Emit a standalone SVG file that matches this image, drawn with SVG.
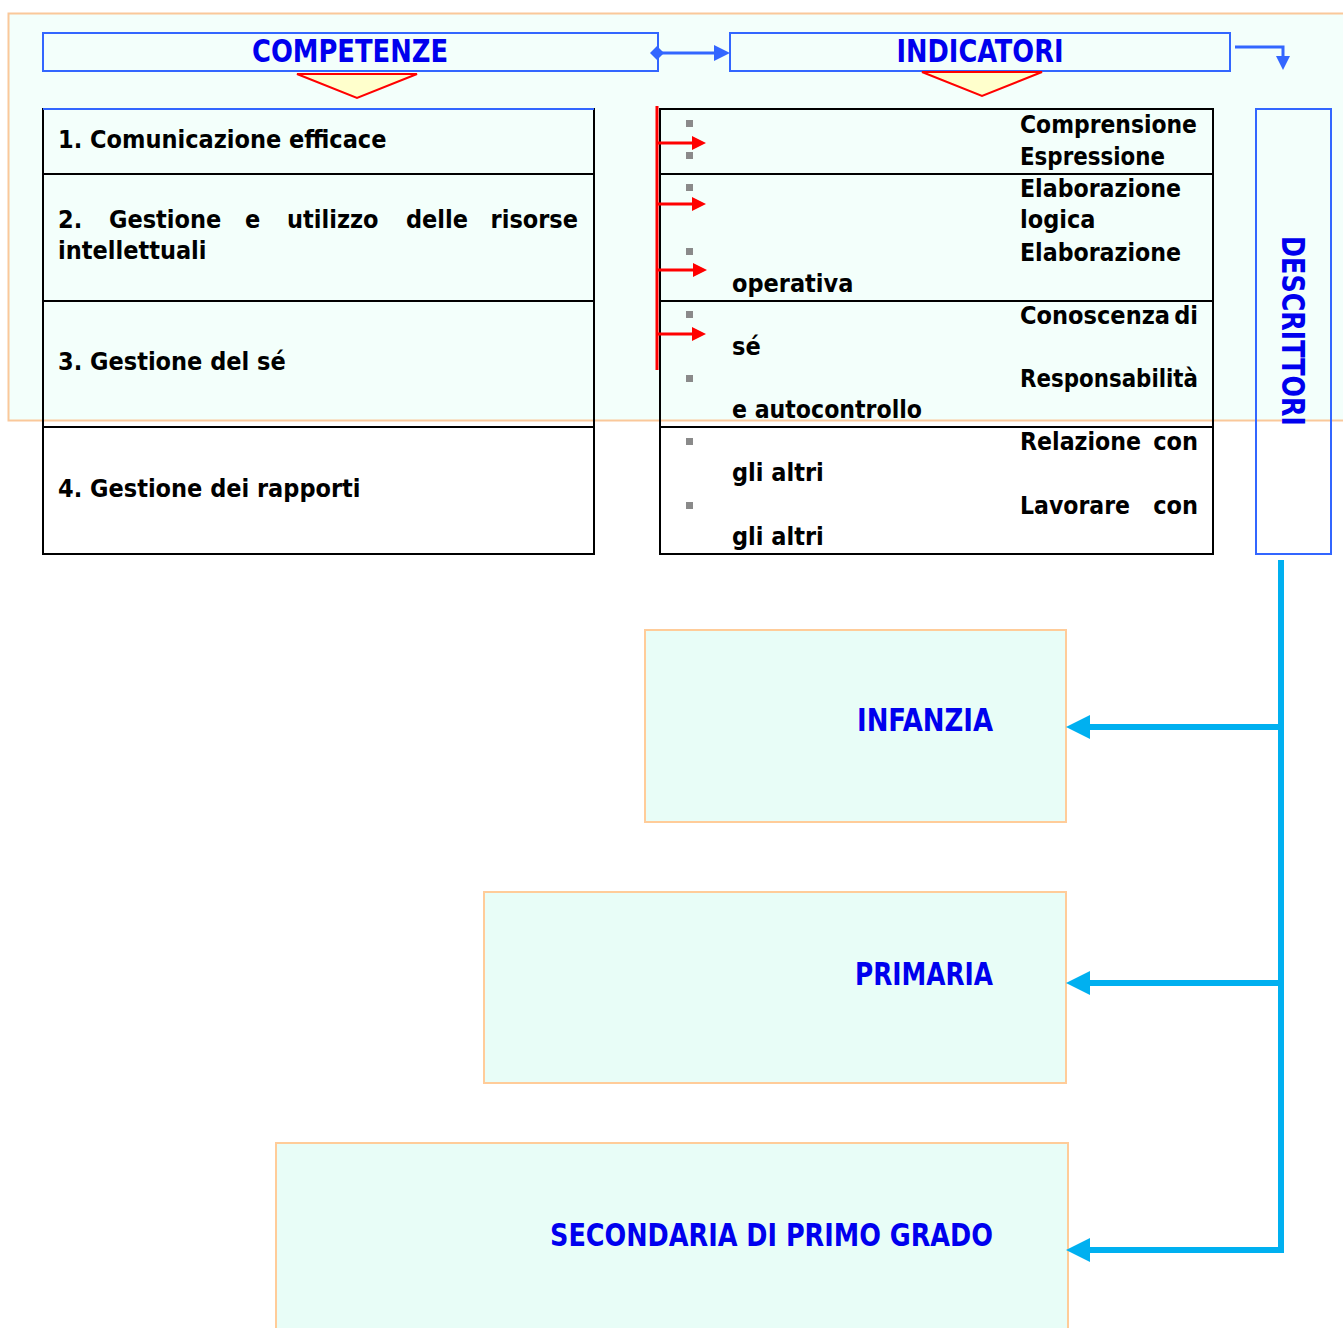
<svg xmlns="http://www.w3.org/2000/svg" width="1343" height="1328" viewBox="0 0 1343 1328">
<style>
.hdr{font-family:"DejaVu Sans Condensed","DejaVu Sans",sans-serif;font-stretch:condensed;font-weight:bold;font-size:32px;fill:#0000ee}
.t{font-family:"DejaVu Sans Condensed","DejaVu Sans",sans-serif;font-stretch:condensed;font-weight:bold;font-size:25px;fill:#000}
.bluebox{fill:none;stroke:#3366ff;stroke-width:2}
.lvl{fill:#e8fdf7;stroke:#ffcc99;stroke-width:2}
.tri{fill:#ffffcc;stroke:#ff0000;stroke-width:2}
.cell{fill:none;stroke:#000;stroke-width:2}
.bul{fill:#8a8a8a}
.red{stroke:#ff0000;stroke-width:3;fill:none}
.cy{stroke:#00b0f0;stroke-width:6;fill:none}
</style>
<rect width="1343" height="1328" fill="#ffffff"/>
<rect id="panel" x="8.5" y="13.5" width="1345" height="407" fill="#f3fffb" stroke="#fac89a" stroke-width="2"/>

<g id="competenze">
<rect class="bluebox" x="43" y="33" width="615" height="38"/>
<text class="hdr" x="350" y="62" text-anchor="middle" textLength="196" lengthAdjust="spacingAndGlyphs">COMPETENZE</text>
<polygon class="tri" points="297,74 417,74 357,98"/>
</g>

<g id="indicatori">
<rect class="bluebox" x="730" y="33" width="500" height="38"/>
<text class="hdr" x="980" y="62" text-anchor="middle" textLength="167" lengthAdjust="spacingAndGlyphs">INDICATORI</text>
<polygon class="tri" points="922,72 1042,72 982,96"/>
</g>

<g id="competenze-table">
<rect class="cell" x="43" y="109" width="551" height="445"/>
<line x1="43" y1="109" x2="594" y2="109" stroke="#3366ff" stroke-width="2"/>
<line class="cell" x1="43" y1="174" x2="594" y2="174"/>
<line class="cell" x1="43" y1="301" x2="594" y2="301"/>
<line class="cell" x1="43" y1="427" x2="594" y2="427"/>
<text class="t" x="58" y="148">1. Comunicazione efficace</text>
<text class="t" x="58" y="228">2.</text>
<text class="t" x="109" y="228">Gestione</text>
<text class="t" x="245" y="228">e</text>
<text class="t" x="287" y="228">utilizzo</text>
<text class="t" x="406" y="228">delle</text>
<text class="t" x="578" y="228" text-anchor="end">risorse</text>
<text class="t" x="58" y="259">intellettuali</text>
<text class="t" x="58" y="370">3. Gestione del sé</text>
<text class="t" x="58" y="497">4. Gestione dei rapporti</text>
</g>

<g id="indicatori-table">
<rect class="cell" x="660" y="109" width="553" height="445"/>
<line class="cell" x1="660" y1="174" x2="1213" y2="174"/>
<line class="cell" x1="660" y1="301" x2="1213" y2="301"/>
<line class="cell" x1="660" y1="427" x2="1213" y2="427"/>
<g>
<rect class="bul" x="686" y="120" width="7" height="7"/>
<rect class="bul" x="686" y="152" width="7" height="7"/>
<rect class="bul" x="686" y="184" width="7" height="7"/>
<rect class="bul" x="686" y="248" width="7" height="7"/>
<rect class="bul" x="686" y="311" width="7" height="7"/>
<rect class="bul" x="686" y="375" width="7" height="7"/>
<rect class="bul" x="686" y="438" width="7" height="7"/>
<rect class="bul" x="686" y="502" width="7" height="7"/>
</g>
<text class="t" x="1020" y="133" textLength="177" lengthAdjust="spacingAndGlyphs">Comprensione</text>
<text class="t" x="1020" y="165" textLength="145" lengthAdjust="spacingAndGlyphs">Espressione</text>
<text class="t" x="1020" y="197" textLength="161" lengthAdjust="spacingAndGlyphs">Elaborazione</text>
<text class="t" x="1020" y="228">logica</text>
<text class="t" x="1020" y="261" textLength="161" lengthAdjust="spacingAndGlyphs">Elaborazione</text>
<text class="t" x="732" y="292">operativa</text>
<text class="t" x="1020" y="324" textLength="150" lengthAdjust="spacingAndGlyphs">Conoscenza</text>
<text class="t" x="1198" y="324" text-anchor="end">di</text>
<text class="t" x="732" y="355">sé</text>
<text class="t" x="1020" y="387" textLength="178" lengthAdjust="spacingAndGlyphs">Responsabilità</text>
<text class="t" x="732" y="418" textLength="190" lengthAdjust="spacingAndGlyphs">e autocontrollo</text>
<text class="t" x="1020" y="450" textLength="121" lengthAdjust="spacingAndGlyphs">Relazione</text>
<text class="t" x="1198" y="450" text-anchor="end">con</text>
<text class="t" x="732" y="481">gli altri</text>
<text class="t" x="1020" y="514" textLength="110" lengthAdjust="spacingAndGlyphs">Lavorare</text>
<text class="t" x="1198" y="514" text-anchor="end">con</text>
<text class="t" x="732" y="545">gli altri</text>
</g>

<g id="descrittori">
<rect class="bluebox" x="1256" y="109" width="75" height="445"/>
<text class="hdr" transform="translate(1282,331) rotate(90)" text-anchor="middle" textLength="190" lengthAdjust="spacingAndGlyphs">DESCRITTORI</text>
</g>

<g id="infanzia">
<rect class="lvl" x="645" y="630" width="421" height="192"/>
<text class="hdr" x="993" y="731" text-anchor="end" textLength="136" lengthAdjust="spacingAndGlyphs">INFANZIA</text>
</g>
<g id="primaria">
<rect class="lvl" x="484" y="892" width="582" height="191"/>
<text class="hdr" x="993" y="985" text-anchor="end" textLength="138" lengthAdjust="spacingAndGlyphs">PRIMARIA</text>
</g>
<g id="secondaria">
<rect class="lvl" x="276" y="1143" width="792" height="200"/>
<text class="hdr" x="993" y="1246" text-anchor="end" textLength="443" lengthAdjust="spacingAndGlyphs">SECONDARIA DI PRIMO GRADO</text>
</g>

<g id="connectors">
<line x1="658" y1="53" x2="716" y2="53" stroke="#3366ff" stroke-width="3"/>
<polygon points="650,53 657,46 664,53 657,60" fill="#3366ff"/>
<polygon points="730,53 714,45 714,61" fill="#3366ff"/>
<polyline points="1235,47 1283,47 1283,58" stroke="#3366ff" stroke-width="3" fill="none"/>
<polygon points="1283,70 1276,56 1290,56" fill="#3366ff"/>
<line class="red" x1="657" y1="106" x2="657" y2="370"/>
<g fill="#ff0000">
<line class="red" x1="657" y1="143" x2="693" y2="143"/>
<polygon points="706,143 692,136 692,150"/>
<line class="red" x1="657" y1="204" x2="693" y2="204"/>
<polygon points="706,204 692,197 692,211"/>
<line class="red" x1="657" y1="270" x2="694" y2="270"/>
<polygon points="707,270 693,263 693,277"/>
<line class="red" x1="657" y1="334" x2="693" y2="334"/>
<polygon points="706,334 692,327 692,341"/>
</g>
<polyline class="cy" points="1281,560 1281,1250 1088,1250"/>
<line class="cy" x1="1281" y1="727" x2="1088" y2="727"/>
<line class="cy" x1="1281" y1="983" x2="1088" y2="983"/>
<g fill="#00b0f0">
<polygon points="1066,727 1090,715 1090,739"/>
<polygon points="1066,983 1090,971 1090,995"/>
<polygon points="1066,1250 1090,1238 1090,1262"/>
</g>
</g>
</svg>
